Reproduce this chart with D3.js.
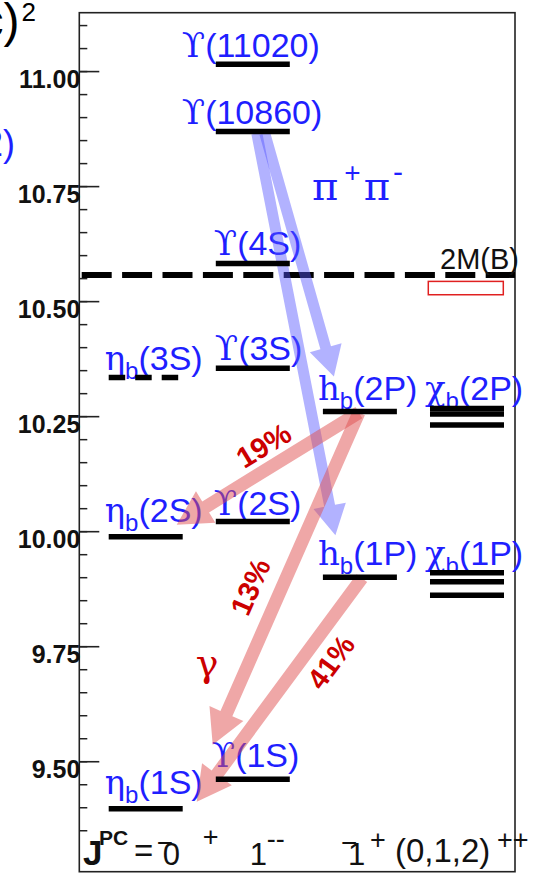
<!DOCTYPE html>
<html><head><meta charset="utf-8">
<script src="https://cdn.jsdelivr.net/npm/d3@7"></script>
<style>body{margin:0;background:#fff}svg{display:block}</style>
</head><body>
<script>
// ---------------- data ----------------
const columns = ["eta", "ups", "hb", "chib"];
const levelNames   = ["ηb(1S)","ηb(2S)","ηb(3S)","Υ(1S)","Υ(2S)","Υ(3S)","Υ(4S)","Υ(10860)","Υ(11020)","hb(1P)","hb(2P)","χb0(1P)","χb1(1P)","χb2(1P)","χb0(2P)","χb1(2P)","χb2(2P)"];
const levelColumns = ["eta","eta","eta","ups","ups","ups","ups","ups","ups","hb","hb","chib","chib","chib","chib","chib","chib"];
const levelMasses  = [9.398, 9.989, 10.335, 9.462, 10.022, 10.355, 10.583, 10.870, 11.016, 9.901, 10.261, 9.862, 9.891, 9.911, 10.232, 10.256, 10.268];
const levelPredicted = [false,false,true,false,false,false,false,false,false,false,false,false,false,false,false,false,false];

const labelSymbols = ["η","η","η","ϒ","ϒ","ϒ","ϒ","ϒ","ϒ","h","h","χ","χ"];
const labelSubs    = ["b","b","b","","","","","","","b","b","b","b"];
const labelRest    = ["(1S)","(2S)","(3S)","(1S)","(2S)","(3S)","(4S)","(10860)","(11020)","(1P)","(2P)","(1P)","(2P)"];
const labelLevels  = ["ηb(1S)","ηb(2S)","ηb(3S)","Υ(1S)","Υ(2S)","Υ(3S)","Υ(4S)","Υ(10860)","Υ(11020)","hb(1P)","hb(2P)","χb2(1P)","χb2(2P)"];

const thresholdMass = 10.558;
const thresholdLabel = "2M(B)";
const thresholdBox = [10.544, 10.515];

const pipiFrom = ["Υ(10860)", "Υ(10860)"];
const pipiTo   = ["hb(2P)", "hb(1P)"];
const pipiLabel = "π";

const gammaFrom = ["hb(2P)", "hb(2P)", "hb(1P)"];
const gammaTo   = ["ηb(2S)", "ηb(1S)", "ηb(1S)"];
const gammaBR   = ["19%", "13%", "41%"];

const majorTicks = [9.50, 9.75, 10.00, 10.25, 10.50, 10.75, 11.00];
const minorTicks = d3.range(9.35, 11.101, 0.05);
const yDomain = [9.261, 11.128];

// ---------------- layout ----------------
const W = 539, H = 879;
const blue = "#1f1fff";
const sans = "Liberation Sans, Arial, sans-serif";
const serif = "DejaVu Serif, serif";
const svg = d3.select("body").append("svg").attr("width", W).attr("height", H);
const y = d3.scaleLinear().domain(yDomain).range([871.7, 12.7]);
const x = d3.scaleBand().domain(columns).range([108.7, 504]).paddingInner(0.309).paddingOuter(0);
const bw = x.bandwidth();
const massOf = n => levelMasses[levelNames.indexOf(n)];
const colOf = n => levelColumns[levelNames.indexOf(n)];
const axisX = 79.3, frameR = 515;

// cut-off axis title pieces at the left edge
const t1 = svg.append("text").attr("x", 36).attr("y", 37).attr("text-anchor","end")
  .attr("font-family", sans).attr("font-size",48).attr("fill","#000");
t1.append("tspan").text("M (GeV/c)");
t1.append("tspan").attr("font-size",26).attr("dy",-16).attr("dx",2).text("2");
svg.append("text").attr("x", 15).attr("y", 156).attr("text-anchor","end")
  .attr("font-family", sans).attr("font-size",36).attr("fill",blue).text("c2)");

// frame & axis
svg.append("rect").attr("x", axisX).attr("y", y(yDomain[1])).attr("width", frameR - axisX)
  .attr("height", y(yDomain[0]) - y(yDomain[1])).attr("fill","none").attr("stroke","#222").attr("stroke-width",1.6);
svg.append("g").selectAll("line").data(minorTicks).join("line")
  .attr("x1", axisX).attr("x2", axisX + 8).attr("y1", d => y(d)).attr("y2", d => y(d))
  .attr("stroke","#222").attr("stroke-width",1.5);
svg.append("g").selectAll("line").data(majorTicks).join("line")
  .attr("x1", axisX).attr("x2", axisX + 20).attr("y1", d => y(d)).attr("y2", d => y(d))
  .attr("stroke","#222").attr("stroke-width",1.6);
svg.append("g").selectAll("text").data(majorTicks).join("text")
  .attr("x", axisX + 1).attr("y", d => y(d) + 16).attr("text-anchor","end")
  .attr("font-family", sans).attr("font-weight","bold")
  .attr("font-size",25).attr("fill","#111").text(d => d3.format(".2f")(d));

// level labels
const labelDx = {"ηb(1S)":-4,"ηb(2S)":-4,"ηb(3S)":-4,"Υ(1S)":-4,"Υ(2S)":-2,"Υ(3S)":-1,"Υ(4S)":-2,"Υ(10860)":-34,"Υ(11020)":-34,"hb(1P)":-5,"hb(2P)":-5,"χb2(1P)":-5,"χb2(2P)":-5};
const labelDy = {"ηb(1S)":-15,"ηb(2S)":-15,"ηb(3S)":-8,"Υ(1S)":-12,"Υ(2S)":-7,"Υ(3S)":-8,"Υ(4S)":-8,"Υ(10860)":-7,"Υ(11020)":-7,"hb(1P)":-12,"hb(2P)":-12,"χb2(1P)":-8,"χb2(2P)":-8};
labelLevels.forEach((lv, i) => {
  const t = svg.append("text").attr("x", x(colOf(lv)) + labelDx[lv]).attr("y", y(massOf(lv)) + labelDy[lv])
    .attr("font-family", sans).attr("font-size",34).attr("fill",blue);
  t.append("tspan").attr("font-family", serif).attr("font-size", 34).text(labelSymbols[i]);
  if (labelSubs[i]) {
    t.append("tspan").attr("font-size",24).attr("dy",9).text(labelSubs[i]);
    t.append("tspan").attr("dy",-9).text(labelRest[i]);
  } else t.append("tspan").text(labelRest[i]);
});

// pi+pi- label
const pp = svg.append("text").attr("x",312).attr("y",200).attr("fill",blue)
  .attr("font-family", serif).attr("font-size",40);
pp.append("tspan").text(pipiLabel);
pp.append("tspan").attr("font-family", sans).attr("font-size",28).attr("dx",6).attr("dy",-18).text("+");
pp.append("tspan").attr("dx",3).attr("dy",18).text(pipiLabel);
pp.append("tspan").attr("font-family", sans).attr("font-size",30).attr("dx",3).attr("dy",-18).text("-");

// threshold
svg.append("line").attr("x1", 81.7).attr("x2", frameR).attr("y1", y(thresholdMass)).attr("y2", y(thresholdMass))
  .attr("stroke","#000").attr("stroke-width",6).attr("stroke-dasharray","30,10.4");
svg.append("text").attr("x", 440).attr("y", y(thresholdMass) - 6)
  .attr("font-family", sans).attr("font-size",29).attr("fill","#111").text(thresholdLabel);
svg.append("rect").attr("x", x("chib") - 1.7).attr("y", y(thresholdBox[0])).attr("width", bw + 1)
  .attr("height", y(thresholdBox[1]) - y(thresholdBox[0])).attr("fill","none").attr("stroke","#e02020").attr("stroke-width",1.5);

// arrows
function arrowPath(x1,y1,x2,y2,w,hw,hl){
  const dx=x2-x1, dy=y2-y1, L=Math.hypot(dx,dy), ux=dx/L, uy=dy/L, px=-uy, py=ux;
  const bx=x2-ux*hl, by=y2-uy*hl;
  const pts=[[x1+px*w/2,y1+py*w/2],[bx+px*w/2,by+py*w/2],[bx+px*hw/2,by+py*hw/2],[x2,y2],
             [bx-px*hw/2,by-py*hw/2],[bx-px*w/2,by-py*w/2],[x1-px*w/2,y1-py*w/2]];
  return d3.line()(pts) + "Z";
}
const pipiStart = [[bw/2 + 12, 2], [bw/2 + 4, 2]];
const pipiEnd   = [[11, -35], [12.5, -42]];
pipiFrom.forEach((f, i) => {
  const x1 = x(colOf(f)) + pipiStart[i][0], y1 = y(massOf(f)) + pipiStart[i][1];
  const x2 = x(colOf(pipiTo[i])) + pipiEnd[i][0], y2 = y(massOf(pipiTo[i])) + pipiEnd[i][1];
  svg.append("path").attr("d", arrowPath(x1,y1,x2,y2,11,33,30)).attr("fill","#5555ff").attr("opacity",0.45);
});
const gStart = [[bw/2 - 1, 1], [bw/2 - 1, 1], [bw/2 + 2, 1]];
const gEnd   = [[bw - 6, -12], [bw + 30, -64], [bw + 14, -7]];
const gT = [0.46, 0.56, 0.309], gOff = [22, 29, -25];
const gammaGeom = [];
gammaFrom.forEach((f, i) => {
  const x1 = x(colOf(f)) + gStart[i][0], y1 = y(massOf(f)) + gStart[i][1];
  const x2 = x(colOf(gammaTo[i])) + gEnd[i][0], y2 = y(massOf(gammaTo[i])) + gEnd[i][1];
  gammaGeom.push([x1,y1,x2,y2]);
  svg.append("path").attr("d", arrowPath(x1,y1,x2,y2,13,37,34)).attr("fill","#e05050").attr("opacity",0.5);
});
gammaBR.forEach((br, i) => {
  const [x1,y1,x2,y2] = gammaGeom[i];
  const th = Math.atan2(y1 - y2, x1 - x2);
  const deg = th * 180 / Math.PI;
  const upx = Math.sin(th), upy = -Math.cos(th);
  const cx = x1 + (x2 - x1) * gT[i] + upx * gOff[i], cy = y1 + (y2 - y1) * gT[i] + upy * gOff[i];
  svg.append("text").attr("transform", `translate(${cx},${cy}) rotate(${deg})`).attr("text-anchor","middle")
    .attr("dy","0.35em").attr("font-family", sans).attr("font-weight","bold")
    .attr("font-size",29).attr("fill","#cc0000").text(br);
});
svg.append("text").attr("x", 207).attr("y", 676).attr("text-anchor","middle")
  .attr("font-family", serif).attr("font-size",38).attr("fill","#cc0000").text("γ");

// levels
levelNames.forEach((n, i) => {
  svg.append("line").attr("x1", x(levelColumns[i])).attr("x2", x(levelColumns[i]) + bw)
    .attr("y1", y(levelMasses[i])).attr("y2", y(levelMasses[i]))
    .attr("stroke","#000").attr("stroke-width",5.5)
    .attr("stroke-dasharray", levelPredicted[i] ? "16.5,10" : null);
});

// J^PC row
const jr = svg.append("g").attr("fill","#111").attr("font-family", sans);
jr.append("text").attr("x",83).attr("y",865).attr("font-weight","bold").attr("font-size",35).text("J");
jr.append("text").attr("x",99).attr("y",845).attr("font-weight","bold").attr("font-size",21).text("PC");
jr.append("text").attr("x",134).attr("y",862).attr("font-size",33).text("=");
const jpcMain = ["0", "1", "1", "(0,1,2)"];
const jpcPre  = ["−", "", "−", ""];
const jpcSup  = ["+", "--", "+", "++"];
const mainDx = [54, 34, 25, -35], mainY = [865, 865, 865, 862], mainSize = [31, 31, 31, 33];
const preDx = [48, 0, 18, 0];
const supDx = [94, 51, 47, 67], supY = [846, 848, 849, 849];
columns.forEach((c, i) => {
  const x0 = x(c);
  jr.append("text").attr("x", x0 + mainDx[i]).attr("y", mainY[i]).attr("font-size", mainSize[i]).text(jpcMain[i]);
  if (jpcPre[i]) jr.append("text").attr("x", x0 + preDx[i]).attr("y", 852).attr("font-size", 28).text(jpcPre[i]);
  jr.append("text").attr("x", x0 + supDx[i]).attr("y", supY[i]).attr("font-size", 27).text(jpcSup[i]);
});
</script>
</body></html>
